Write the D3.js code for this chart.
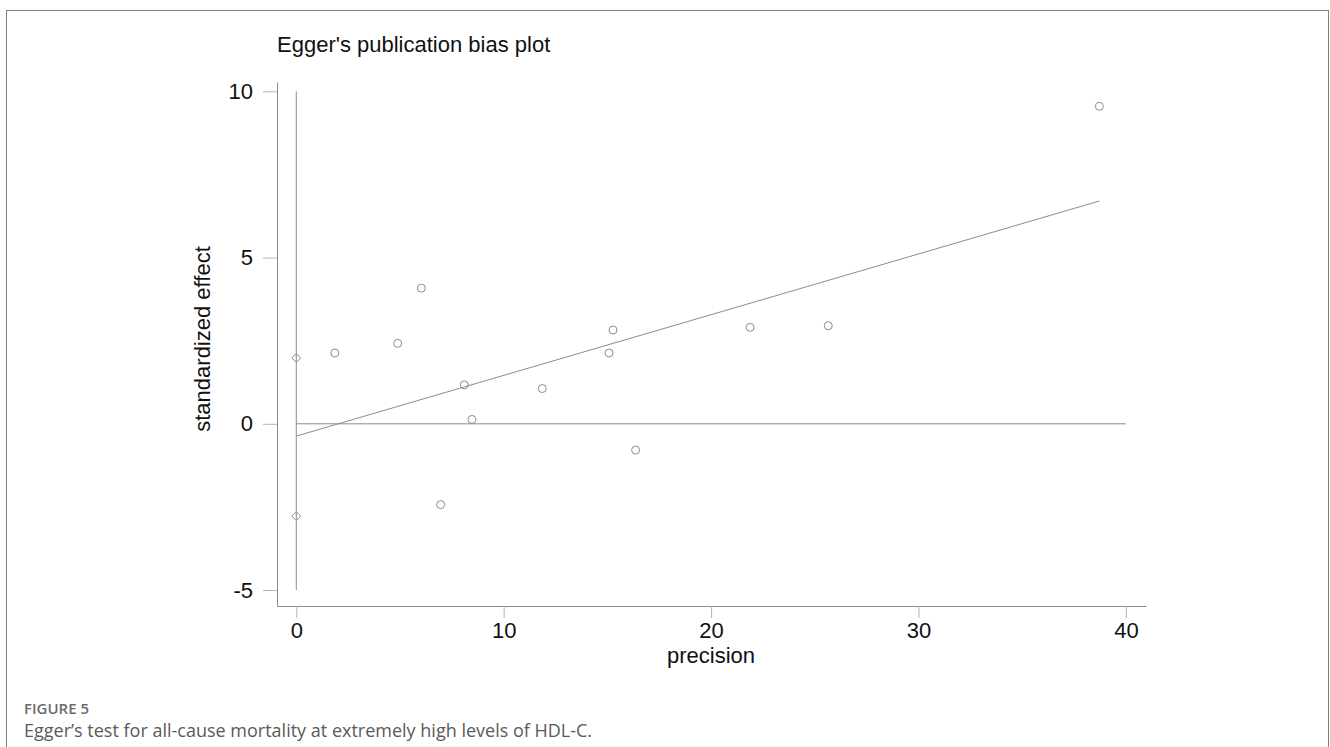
<!DOCTYPE html>
<html>
<head>
<meta charset="utf-8">
<script src="https://cdn.jsdelivr.net/npm/d3@7"></script>
<style>
  body { margin: 0; background: #fff; }
  #chart { width: 1330px; height: 747px; }
</style>
</head>
<body>
<div id="chart"></div>
<script>
// study points: precision vs standardized effect
var precision = [1.86, 4.89, 6.03, 6.96, 8.10, 8.47, 11.86, 15.08, 15.27, 16.36, 21.88, 25.65, 38.72];
var stdEffect = [2.13, 2.42, 4.08, -2.43, 1.17, 0.13, 1.06, 2.13, 2.82, -0.79, 2.90, 2.95, 9.55];
// confidence limits of the intercept, drawn at precision 0
var ciBias = [1.98, -2.78];
// fitted Egger line
var fitX = [0, 38.72];
var fitY = [-0.37, 6.70];
var xTicks = [0, 10, 20, 30, 40];
var yTicks = [-5, 0, 5, 10];

var width = 1330, height = 747;
var grey = "#8c8c8c";

var svg = d3.select("#chart").append("svg")
  .attr("width", width)
  .attr("height", height)
  .style("font-family", "'Liberation Sans', Arial, sans-serif");

// frame
svg.append("rect")
  .attr("x", 6.5).attr("y", 10.5)
  .attr("width", 1322).attr("height", 760)
  .attr("fill", "none")
  .attr("stroke", "#808080");

var x = d3.scaleLinear().domain([-0.93, 40.97]).range([277, 1146]);
var y = d3.scaleLinear().domain([-5.48, 10.28]).range([606, 82]);

// plain hyphen for negatives, like the original
var fmt = function(d){ return String(d); };

// axes
var gx = svg.append("g")
  .attr("transform", "translate(0," + y.range()[0] + ")")
  .call(d3.axisBottom(x).tickValues(xTicks).tickFormat(fmt).tickSize(12).tickSizeOuter(0).tickPadding(4));
var gy = svg.append("g")
  .attr("transform", "translate(" + x.range()[0] + ",0)")
  .call(d3.axisLeft(y).tickValues(yTicks).tickFormat(fmt).tickSize(14).tickSizeOuter(0).tickPadding(10));

[gx, gy].forEach(function(g){
  g.select(".domain").attr("stroke", grey);
  g.selectAll(".tick line").attr("stroke", "#b5b5b5");
  g.selectAll(".tick text")
    .attr("fill", "#111")
    .style("font-size", "22px")
    .style("font-family", "'Liberation Sans', Arial, sans-serif");
});

// reference lines
svg.append("line")
  .attr("x1", x(0)).attr("x2", x(0))
  .attr("y1", y(10)).attr("y2", y(-5))
  .attr("stroke", grey);
svg.append("line")
  .attr("x1", x(0)).attr("x2", x(40))
  .attr("y1", y(0)).attr("y2", y(0))
  .attr("stroke", grey);

// fitted line
svg.append("line")
  .attr("x1", x(fitX[0])).attr("y1", y(fitY[0]))
  .attr("x2", x(fitX[1])).attr("y2", y(fitY[1]))
  .attr("stroke", grey);

// study circles
svg.append("g").selectAll("circle")
  .data(precision)
  .enter().append("circle")
  .attr("cx", function(d){ return x(d); })
  .attr("cy", function(d, i){ return y(stdEffect[i]); })
  .attr("r", 4)
  .attr("fill", "none")
  .attr("stroke", grey);

// intercept limits as diamonds
svg.append("g").selectAll("path")
  .data(ciBias)
  .enter().append("path")
  .attr("d", d3.symbol().type(d3.symbolDiamond2).size(50))
  .attr("transform", function(d){ return "translate(" + x(0) + "," + y(d) + ")"; })
  .attr("fill", "none")
  .attr("stroke", grey);

// titles
svg.append("text")
  .attr("x", 277).attr("y", 52)
  .style("font-size", "22px")
  .attr("fill", "#111")
  .text("Egger's publication bias plot");

svg.append("text")
  .attr("x", 711).attr("y", 663)
  .attr("text-anchor", "middle")
  .style("font-size", "22px")
  .attr("fill", "#111")
  .text("precision");

svg.append("text")
  .attr("transform", "translate(210,339) rotate(-90)")
  .attr("text-anchor", "middle")
  .style("font-size", "22px")
  .attr("fill", "#111")
  .text("standardized effect");

// caption
svg.append("text")
  .attr("x", 24).attr("y", 714)
  .style("font-family", "'Open Sans', sans-serif")
  .style("font-size", "15px")
  .style("font-weight", "600")
  .attr("fill", "#6b6b6b")
  .text("FIGURE 5");

svg.append("text")
  .attr("x", 24).attr("y", 737)
  .style("font-family", "'Open Sans', sans-serif")
  .style("font-size", "18px")
  .attr("fill", "#5a5a5a")
  .text("Egger\u2019s test for all-cause mortality at extremely high levels of HDL-C.");
</script>
</body>
</html>
